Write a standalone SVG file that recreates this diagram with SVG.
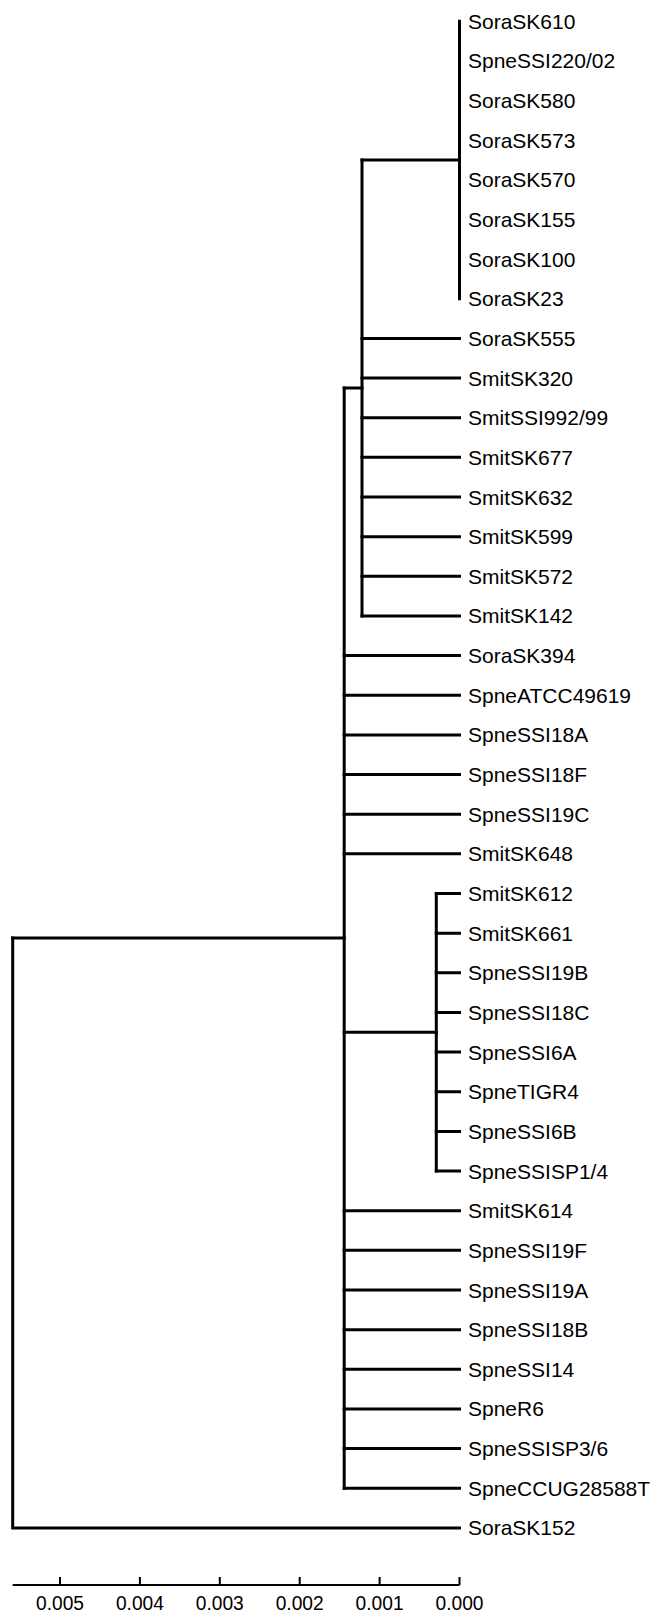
<svg xmlns="http://www.w3.org/2000/svg" width="650" height="1611" viewBox="0 0 650 1611">
  <style>
    .br { fill: none; stroke: #000; stroke-width: 3; stroke-linecap: square; }
    .ax { fill: none; stroke: #000; stroke-width: 2; }
    .lbl { font-family: "Liberation Sans", Arial, sans-serif; font-size: 21px; fill: #000; }
    .tk { font-family: "Liberation Sans", Arial, sans-serif; font-size: 20px; fill: #000; text-anchor: middle; }
  </style>
  <rect width="650" height="1611" fill="#fff"/>

  <!-- tree branches -->
  <g id="connectors">
    <!-- root -->
    <path class="br" d="M12.7 938.1 V1527.9 H459.5"/>
    <path class="br" d="M12.7 938.1 H344.2"/>
    <!-- main clade -->
    <path class="br" d="M344.2 388 V1488.25"/>
    <path class="br" d="M344.2 388 H362"/>
    <!-- clade with zero-length tips -->
    <path class="br" d="M362 160 V615.95"/>
    <path class="br" d="M362 160 H459.5"/>
    <path class="br" d="M459.5 21.2 V298.75"/>
    <path class="br" d="M362 338.4 H459.5 M362 378.05 H459.5 M362 417.7 H459.5 M362 457.35 H459.5 M362 497 H459.5 M362 536.65 H459.5 M362 576.3 H459.5 M362 615.95 H459.5"/>
    <!-- leaves on main clade -->
    <path class="br" d="M344.2 655.6 H459.5 M344.2 695.25 H459.5 M344.2 734.9 H459.5 M344.2 774.55 H459.5 M344.2 814.2 H459.5 M344.2 853.85 H459.5"/>
    <path class="br" d="M344.2 1032.3 H436.3"/>
    <path class="br" d="M344.2 1210.7 H459.5 M344.2 1250.35 H459.5 M344.2 1290 H459.5 M344.2 1329.65 H459.5 M344.2 1369.3 H459.5 M344.2 1408.95 H459.5 M344.2 1448.6 H459.5 M344.2 1488.25 H459.5"/>
    <!-- small subclade -->
    <path class="br" d="M436.3 893.5 V1171.05"/>
    <path class="br" d="M436.3 893.5 H459.5 M436.3 933.15 H459.5 M436.3 972.8 H459.5 M436.3 1012.45 H459.5 M436.3 1052.1 H459.5 M436.3 1091.75 H459.5 M436.3 1131.4 H459.5 M436.3 1171.05 H459.5"/>
  </g>

  <!-- taxon labels -->
  <g id="n01"><text class="lbl" x="468" y="28.7">SoraSK610</text></g>
  <g id="n02"><text class="lbl" x="468" y="68.35">SpneSSI220/02</text></g>
  <g id="n03"><text class="lbl" x="468" y="108">SoraSK580</text></g>
  <g id="n04"><text class="lbl" x="468" y="147.65">SoraSK573</text></g>
  <g id="n05"><text class="lbl" x="468" y="187.3">SoraSK570</text></g>
  <g id="n06"><text class="lbl" x="468" y="226.95">SoraSK155</text></g>
  <g id="n07"><text class="lbl" x="468" y="266.6">SoraSK100</text></g>
  <g id="n08"><text class="lbl" x="468" y="306.25">SoraSK23</text></g>
  <g id="n09"><text class="lbl" x="468" y="345.9">SoraSK555</text></g>
  <g id="n10"><text class="lbl" x="468" y="385.55">SmitSK320</text></g>
  <g id="n11"><text class="lbl" x="468" y="425.2">SmitSSI992/99</text></g>
  <g id="n12"><text class="lbl" x="468" y="464.85">SmitSK677</text></g>
  <g id="n13"><text class="lbl" x="468" y="504.5">SmitSK632</text></g>
  <g id="n14"><text class="lbl" x="468" y="544.15">SmitSK599</text></g>
  <g id="n15"><text class="lbl" x="468" y="583.8">SmitSK572</text></g>
  <g id="n16"><text class="lbl" x="468" y="623.45">SmitSK142</text></g>
  <g id="n17"><text class="lbl" x="468" y="663.1">SoraSK394</text></g>
  <g id="n18"><text class="lbl" x="468" y="702.75">SpneATCC49619</text></g>
  <g id="n19"><text class="lbl" x="468" y="742.4">SpneSSI18A</text></g>
  <g id="n20"><text class="lbl" x="468" y="782.05">SpneSSI18F</text></g>
  <g id="n21"><text class="lbl" x="468" y="821.7">SpneSSI19C</text></g>
  <g id="n22"><text class="lbl" x="468" y="861.35">SmitSK648</text></g>
  <g id="n23"><text class="lbl" x="468" y="901">SmitSK612</text></g>
  <g id="n24"><text class="lbl" x="468" y="940.65">SmitSK661</text></g>
  <g id="n25"><text class="lbl" x="468" y="980.3">SpneSSI19B</text></g>
  <g id="n26"><text class="lbl" x="468" y="1019.95">SpneSSI18C</text></g>
  <g id="n27"><text class="lbl" x="468" y="1059.6">SpneSSI6A</text></g>
  <g id="n28"><text class="lbl" x="468" y="1099.25">SpneTIGR4</text></g>
  <g id="n29"><text class="lbl" x="468" y="1138.9">SpneSSI6B</text></g>
  <g id="n30"><text class="lbl" x="468" y="1178.55">SpneSSISP1/4</text></g>
  <g id="n31"><text class="lbl" x="468" y="1218.2">SmitSK614</text></g>
  <g id="n32"><text class="lbl" x="468" y="1257.85">SpneSSI19F</text></g>
  <g id="n33"><text class="lbl" x="468" y="1297.5">SpneSSI19A</text></g>
  <g id="n34"><text class="lbl" x="468" y="1337.15">SpneSSI18B</text></g>
  <g id="n35"><text class="lbl" x="468" y="1376.8">SpneSSI14</text></g>
  <g id="n36"><text class="lbl" x="468" y="1416.45">SpneR6</text></g>
  <g id="n37"><text class="lbl" x="468" y="1456.1">SpneSSISP3/6</text></g>
  <g id="n38"><text class="lbl" x="468" y="1495.75">SpneCCUG28588T</text></g>
  <g id="n39"><text class="lbl" x="468" y="1535.4">SoraSK152</text></g>

  <!-- distance scale -->
  <g id="scale">
    <path class="ax" d="M12.7 1585 H459.5"/>
    <path class="ax" d="M60 1577 V1585 M139.9 1577 V1585 M219.8 1577 V1585 M299.7 1577 V1585 M379.6 1577 V1585 M459.5 1577 V1585"/>
    <text class="tk" x="60" y="1609.5" textLength="48" lengthAdjust="spacingAndGlyphs">0.005</text>
    <text class="tk" x="139.9" y="1609.5" textLength="48" lengthAdjust="spacingAndGlyphs">0.004</text>
    <text class="tk" x="219.8" y="1609.5" textLength="48" lengthAdjust="spacingAndGlyphs">0.003</text>
    <text class="tk" x="299.7" y="1609.5" textLength="48" lengthAdjust="spacingAndGlyphs">0.002</text>
    <text class="tk" x="379.6" y="1609.5" textLength="48" lengthAdjust="spacingAndGlyphs">0.001</text>
    <text class="tk" x="459.5" y="1609.5" textLength="48" lengthAdjust="spacingAndGlyphs">0.000</text>
  </g>
</svg>
